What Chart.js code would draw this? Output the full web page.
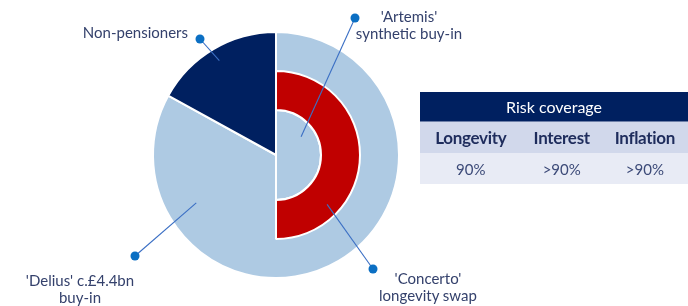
<!DOCTYPE html>
<html>
<head>
<meta charset="utf-8">
<script src="https://cdn.jsdelivr.net/npm/chart.js@4.4.1/dist/chart.umd.min.js"></script>
<style>
  body { margin: 0; background: #fff; }
  #wrap { position: relative; width: 688px; height: 306px; overflow: hidden; font-family: Lato, "Open Sans", sans-serif; color: #34416c; }
  #wrap canvas { position: absolute; left: 0; top: 0; }
  .lbl { position: absolute; font-size: 15px; line-height: 17px; white-space: nowrap; }
  .c { text-align: center; width: 160px; }
  #risk { position: absolute; left: 420px; top: 92px; width: 268px; border-collapse: collapse; }
  #risk td { text-align: center; padding: 0; }
  #risk .hd td { background: #002060; color: #fff; font-size: 16px; height: 29px; border-bottom: 1px solid #6d7fa8; }
  #risk .cols td { background: #d1d8eb; color: #1e2c5c; font-weight: bold; font-size: 17px; height: 31px; letter-spacing: -0.3px; }
  #risk .vals td { background: #e8ebf5; color: #3c4a78; font-size: 15px; height: 31px; }
</style>
</head>
<body>
<div id="wrap">
  <canvas id="pieChart" width="688" height="306"></canvas>
  <canvas id="ringChart" width="688" height="306"></canvas>
  <div id="labels"></div>
  <table id="risk">
    <tr class="hd"><td colspan="3" id="riskTitle"></td></tr>
    <tr class="cols" id="riskCols"></tr>
    <tr class="vals" id="riskVals"></tr>
  </table>
</div>
<script>
// membros do esquema (anel exterior, a partir do topo no sentido horario)
var memberLabels = ['Pensioners', 'Non-pensioners']
var memberValues = [83, 17]
// cobertura dos pensionistas: swap de longevidade (anel vermelho) e buy-in sintetico (centro)
var swapValues = [50, 50]
var buyInValues = [50, 50]

// tabela de cobertura de risco
var riskTitle = 'Risk coverage'
var riskTypes = ['Longevity', 'Interest', 'Inflation']
var riskCoverage = ['90%', '>90%', '>90%']

// etiquetas: texto, posicao do texto, ponto e inicio da linha (angulo, raio a partir do centro)
var callouts = [
  { text: ['Non-pensioners'], x: 188, y: 24, align: 'right', dot: [200, 39], from: [329, 110] },
  { text: ["'Artemis'", 'synthetic buy-in'], x: 409, y: 8, align: 'center', dot: [355, 18], from: [54, 31] },
  { text: ["'Delius' c.£4.4bn", 'buy-in'], x: 80, y: 272, align: 'center', dot: [135, 256], from: [239, 93] },
  { text: ["'Concerto'", 'longevity swap'], x: 428, y: 270, align: 'center', dot: [373, 269], from: [134, 71] }
]

var lightBlue = '#aecae3'
var navy = '#002060'
var red = '#c00000'
var clear = 'rgba(0,0,0,0)'

var baseOptions = {
  responsive: false,
  animation: false,
  events: [],
  rotation: 0,
  layout: { padding: { left: 0, right: 136, top: 4, bottom: 0 } },
  plugins: { legend: { display: false }, tooltip: { enabled: false } }
}

// grafico de base (pie completo)
var pieChart = new Chart('pieChart', {
  type: 'pie',
  data: {
    labels: memberLabels,
    datasets: [{
      data: memberValues,
      backgroundColor: [lightBlue, navy],
      borderColor: '#fff',
      borderWidth: 2
    }]
  },
  options: Object.assign({}, baseOptions, { radius: 123 })
})

// linhas e pontos das etiquetas
var calloutPlugin = {
  id: 'callouts',
  afterDraw: function(chart){
    var arc = chart.getDatasetMeta(0).data[0]
    var cx = arc.x
    var cy = arc.y
    var ctx = chart.ctx
    ctx.save()
    for (var i in callouts) {
      var c = callouts[i]
      var a = c.from[0] * Math.PI / 180
      var sx = cx + c.from[1] * Math.sin(a)
      var sy = cy - c.from[1] * Math.cos(a)
      ctx.strokeStyle = '#3b6fc4'
      ctx.lineWidth = 1.1
      ctx.beginPath()
      ctx.moveTo(sx, sy)
      ctx.lineTo(c.dot[0], c.dot[1])
      ctx.stroke()
      ctx.fillStyle = '#0b6fc3'
      ctx.beginPath()
      ctx.arc(c.dot[0], c.dot[1], 4.5, 0, Math.PI * 2)
      ctx.fill()
    }
    ctx.restore()
  }
}

// anel interior (metade direita) sobreposto
var ringChart = new Chart('ringChart', {
  type: 'doughnut',
  data: {
    labels: ['Covered', ''],
    datasets: [{
      data: swapValues,
      backgroundColor: [red, clear],
      borderColor: ['#fff', clear],
      borderWidth: [2, 0],
      weight: 39
    }, {
      data: buyInValues,
      backgroundColor: [lightBlue, clear],
      borderColor: ['#fff', clear],
      borderWidth: [2, 0],
      weight: 45
    }]
  },
  options: Object.assign({}, baseOptions, { radius: 84, cutout: 0 }),
  plugins: [calloutPlugin]
})

// texto das etiquetas
var labelsDiv = document.getElementById('labels')
for (var i in callouts) {
  var c = callouts[i]
  var d = document.createElement('div')
  d.className = 'lbl'
  d.innerHTML = c.text.join('<br>')
  d.style.top = c.y + 'px'
  if (c.align == 'right') {
    d.style.right = (688 - c.x) + 'px'
    d.style.textAlign = 'right'
  } else {
    d.className = 'lbl c'
    d.style.left = (c.x - 80) + 'px'
  }
  labelsDiv.appendChild(d)
}

// preencher tabela
document.getElementById('riskTitle').textContent = riskTitle
var colsRow = document.getElementById('riskCols')
var valsRow = document.getElementById('riskVals')
for (var j in riskTypes) {
  var td = document.createElement('td')
  td.textContent = riskTypes[j]
  colsRow.appendChild(td)
  var tv = document.createElement('td')
  tv.textContent = riskCoverage[j]
  valsRow.appendChild(tv)
}
</script>
</body>
</html>
